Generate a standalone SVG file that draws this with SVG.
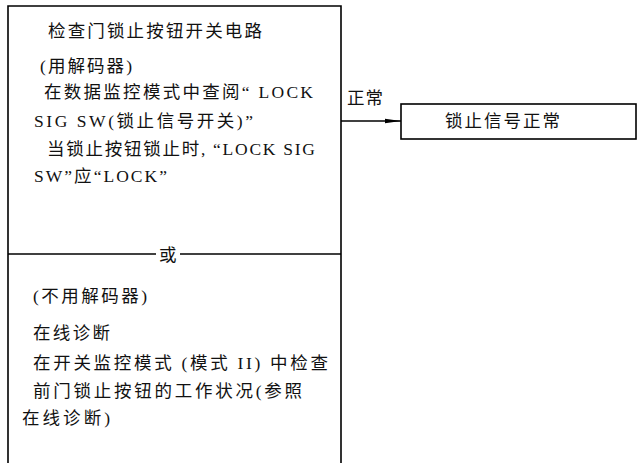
<svg xmlns="http://www.w3.org/2000/svg" width="642" height="463" viewBox="0 0 642 463">
<style>
  .box { fill: none; stroke: #000; stroke-width: 1.6; }
  .ln { stroke: #000; stroke-width: 1.5; fill: none; }
  text { font-family: "Liberation Serif", "Noto Sans CJK SC", serif; font-size: 17.5px; fill: #111; }
</style>
<defs>
  <marker id="arr" markerWidth="16" markerHeight="6" refX="16" refY="3" orient="auto" markerUnits="userSpaceOnUse">
    <path d="M0,0.8 L16,3 L0,5.2 Z" fill="#000"/>
  </marker>
</defs>
<rect width="642" height="463" fill="#fff"/>
<g id="check-box">
  <path class="box" d="M8,463 V6 H341 V463"/>
  <line class="ln" x1="8" y1="254" x2="156" y2="254"/>
  <line class="ln" x1="180" y1="254" x2="341" y2="254"/>
  <text x="48" y="37" textLength="214" lengthAdjust="spacing">检查门锁止按钮开关电路</text>
  <text x="40" y="72" textLength="92" lengthAdjust="spacing">(用解码器)</text>
  <text x="44" y="98" textLength="269" lengthAdjust="spacing">在数据监控模式中查阅“ LOCK</text>
  <text x="34" y="127" textLength="219" lengthAdjust="spacing">SIG SW(锁止信号开关)”</text>
  <text x="47" y="155" textLength="268" lengthAdjust="spacing">当锁止按钮锁止时, “LOCK SIG</text>
  <text x="34" y="182" textLength="133" lengthAdjust="spacing">SW”应“LOCK”</text>
  <text x="159" y="261">或</text>
  <text x="33" y="302" textLength="114" lengthAdjust="spacing">(不用解码器)</text>
  <text x="33" y="339" textLength="77" lengthAdjust="spacing">在线诊断</text>
  <text x="33" y="369" textLength="295" lengthAdjust="spacing">在开关监控模式 (模式 II) 中检查</text>
  <text x="33" y="397" textLength="269" lengthAdjust="spacing">前门锁止按钮的工作状况(参照</text>
  <text x="22" y="424" textLength="88" lengthAdjust="spacing">在线诊断)</text>
</g>
<g id="normal-box">
  <rect class="box" x="401" y="104" width="235" height="35"/>
  <text x="445" y="127" textLength="115" lengthAdjust="spacing">锁止信号正常</text>
</g>
<g id="connectors">
  <line class="ln" x1="341" y1="121" x2="401" y2="121" marker-end="url(#arr)"/>
  <text x="347" y="104" textLength="36" lengthAdjust="spacing">正常</text>
</g>
</svg>
